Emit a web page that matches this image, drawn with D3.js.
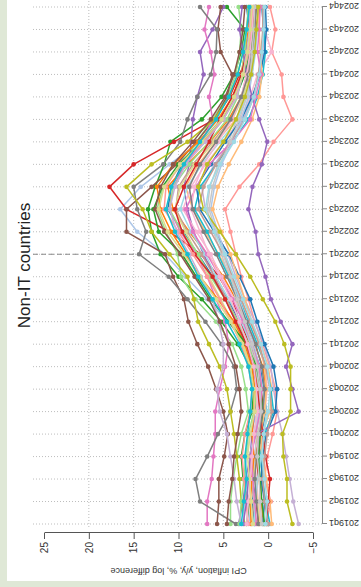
<!DOCTYPE html>
<html><head><meta charset="utf-8">
<script src="https://cdn.jsdelivr.net/npm/d3@7"></script>
<style>html,body{margin:0;padding:0;background:#dfe8d6;} svg{display:block}</style>
</head><body><svg id="c" width="361" height="587"></svg>
<script>
const quarters = ['2019q1','2019q2','2019q3','2019q4','2020q1','2020q2','2020q3','2020q4','2021q1','2021q2','2021q3','2021q4','2022q1','2022q2','2022q3','2022q4','2023q1','2023q2','2023q3','2023q4','2024q1','2024q2','2024q3','2024q4'];
const valueTicks = [-5,0,5,10,15,20,25];
const gridTicks = [-5,0,5,10,15,20];
const markerQuarter = '2022q1';
const titleText = 'Non-IT countries';
const yLabel = 'CPI inflation, y/y, %, log difference';

const s00 = [1.5,1.8,1.2,1.0,0.8,0.2,0.5,0.9,1.8,3.2,4.5,6.2,7.8,9.5,11.2,10.8,9.6,7.2,5.0,3.8,2.9,2.5,2.1,2.4];
const s01 = [2.0,2.3,2.6,2.4,2.0,1.2,1.0,1.4,2.4,4.5,6.8,9.2,11.5,14.6,16.5,14.2,11.0,7.6,5.2,3.6,2.8,2.2,1.9,2.0];
const s02 = [0.5,0.8,1.0,1.4,1.2,0.4,0.2,0.6,1.5,2.6,3.6,5.0,6.8,8.8,10.6,11.2,9.0,6.5,4.4,3.0,2.2,1.6,1.2,0.9];
const s03 = [1.2,1.0,0.6,0.9,0.7,-0.2,-0.4,0.0,0.8,2.0,3.0,4.2,5.5,7.0,8.4,9.2,7.8,5.8,3.6,2.4,1.8,1.5,1.3,1.1];
const s04 = [2.4,2.1,2.8,3.0,2.6,1.8,1.6,2.0,3.4,5.2,7.4,10.0,12.0,13.0,13.4,12.6,11.6,10.9,7.4,5.2,3.8,3.0,2.6,4.6];
const s05 = [4.2,4.2,3.9,3.5,3.0,2.2,2.5,3.0,4.0,5.8,8.1,9.7,10.1,11.4,12.4,11.7,9.6,8.0,6.2,4.6,3.6,3.2,3.0,3.3];
const s06 = [1.0,1.4,1.2,1.1,0.9,0.5,0.8,1.0,2.0,3.2,4.0,5.5,7.5,11.0,15.8,17.7,15.0,10.5,6.0,4.3,3.2,2.0,1.4,0.9];
const s07 = [0.2,-0.3,0.4,0.1,-0.5,-1.0,-0.8,-0.2,0.6,1.5,2.2,3.0,3.6,4.2,4.8,3.2,1.0,-0.6,-2.7,-1.7,-1.5,-0.4,-0.8,-0.2];
const s08 = [3.3,2.8,2.5,2.0,1.8,1.5,1.2,1.8,2.5,3.6,4.8,6.0,7.2,8.3,9.0,9.4,8.8,8.6,8.4,7.9,7.2,7.6,6.2,5.0];
const s09 = [-3.4,-2.8,-2.4,-2.0,-1.6,-1.0,-0.6,-0.3,0.5,1.5,2.6,3.6,4.5,5.8,7.0,7.4,6.0,4.2,2.8,1.6,1.0,0.6,0.4,0.5];
const s10 = [5.7,5.5,5.5,4.9,4.5,5.0,5.8,6.7,7.9,8.9,9.4,10.6,11.5,15.8,15.8,13.0,10.2,8.0,6.0,4.6,4.0,5.3,5.6,5.3];
const s11 = [1.8,1.6,1.9,2.1,1.5,0.8,0.9,1.2,2.2,3.4,4.6,6.0,7.4,9.0,10.3,10.0,8.4,6.2,4.2,3.0,2.4,2.0,1.8,1.6];
const s12 = [6.8,6.8,6.3,6.1,5.9,5.9,5.4,4.8,4.4,4.8,5.8,6.8,8.0,9.8,11.0,10.6,9.2,7.4,6.2,6.6,6.0,6.4,7.1,6.6];
const s13 = [0.8,1.1,1.3,1.6,1.0,0.4,0.1,0.3,1.2,2.6,3.8,5.2,6.4,8.0,9.5,8.6,7.0,5.0,3.1,2.0,1.2,-0.4,0.4,0.8];
const s14 = [3.6,7.6,8.1,6.8,5.6,4.2,3.5,3.8,5.2,7.0,9.0,11.1,14.4,13.6,14.6,15.0,11.7,9.8,9.0,7.9,6.4,5.8,5.7,7.6];
const s15 = [1.4,1.6,1.7,1.5,1.3,1.0,1.1,1.4,2.0,2.8,3.6,4.4,5.2,6.1,6.8,6.5,5.6,4.4,3.5,2.8,2.4,2.2,2.1,2.0];
const s16 = [2.6,3.0,3.2,3.5,3.8,4.2,4.6,5.4,6.6,7.8,8.3,9.0,11.0,13.0,14.0,15.8,13.0,9.0,6.0,4.4,3.4,2.8,2.4,2.2];
const s17 = [0.9,1.2,1.4,1.8,1.6,1.2,1.4,1.9,2.8,4.0,5.3,6.6,7.9,9.2,10.4,9.8,8.2,6.0,4.0,2.8,2.0,1.7,1.5,1.3];
const s18 = [-0.2,0.3,0.6,0.9,0.4,-0.6,-0.3,0.2,1.2,2.2,3.2,4.4,5.6,6.8,8.2,7.6,5.8,4.0,2.2,1.2,0.6,0.3,0.5,0.7];
const s19 = [1.6,1.4,1.2,0.8,0.5,0.2,0.6,1.0,1.9,3.0,4.4,5.8,7.0,8.6,9.8,9.0,7.4,5.4,3.4,2.4,1.8,1.4,1.2,1.1];
const s20 = [0.6,0.4,0.8,0.6,0.2,-0.8,-1.0,-0.6,0.4,1.2,2.0,3.2,4.4,6.0,7.6,8.0,6.4,4.8,3.0,1.8,0.9,0.4,0.2,0.3];
const s21 = [2.8,2.6,2.3,2.0,1.6,1.0,0.8,1.0,1.6,2.4,3.2,4.0,4.8,5.6,6.4,6.0,5.2,4.0,3.0,2.2,1.8,1.6,1.5,1.6];
const s22 = [1.9,2.0,1.8,1.6,1.8,1.6,1.5,1.8,2.6,3.8,5.6,7.6,9.2,10.8,12.0,12.4,10.6,7.8,5.6,4.0,3.0,2.6,2.2,1.9];
const s23 = [-0.4,-0.2,0.2,0.6,0.8,0.4,0.2,0.4,1.0,1.8,2.6,3.4,4.2,5.2,6.2,5.6,4.4,3.0,1.8,1.0,0.7,0.9,1.0,1.2];
const s24 = [0.4,0.7,0.9,1.1,0.9,0.6,0.8,1.3,2.4,4.4,6.4,8.0,9.6,12.2,12.8,11.8,10.0,7.4,5.2,3.6,2.6,2.0,1.6,1.4];
const s25 = [3.2,3.0,2.7,2.5,2.2,1.6,1.2,1.5,2.2,3.4,4.8,6.4,7.8,9.6,11.0,10.6,8.8,6.6,4.6,3.4,3.0,2.6,2.4,2.2];
const s26 = [0.2,0.0,-0.2,0.3,0.6,0.9,1.2,1.6,2.4,3.6,4.8,6.2,8.2,9.6,10.4,9.4,8.0,6.6,5.4,4.0,3.0,2.4,1.8,1.4];
const s27 = [2.2,2.5,2.7,2.9,2.6,2.0,1.8,2.2,3.0,4.2,5.4,6.8,8.4,10.0,11.6,11.4,9.8,7.2,5.0,3.6,2.8,2.2,1.9,1.7];
const s28 = [2.8,2.4,2.2,2.0,1.4,-3.4,-2.7,-2.0,-2.7,-1.4,-0.3,0.3,1.1,1.4,2.2,1.75,0.7,0.1,1.0,1.8,2.4,2.8,3.2,2.9];
const s29 = [3.0,3.5,3.8,4.2,4.6,5.4,5.7,5.0,5.0,5.5,6.2,7.5,8.8,10.2,11.0,10.4,9.2,7.0,5.0,3.5,2.8,2.4,2.1,2.0];
const s30 = [4.6,4.4,4.0,3.8,3.4,3.0,3.2,3.6,4.4,5.4,6.6,8.2,9.8,11.6,12.6,12.0,10.6,8.4,6.4,4.8,3.8,3.2,2.8,2.6];
const s31 = [0.0,0.4,0.6,0.4,0.1,-0.4,-0.2,0.3,1.0,2.0,3.0,4.0,5.0,6.4,7.8,7.2,5.8,4.2,2.6,1.6,1.1,0.8,0.6,0.6];
const s32 = [1.3,1.5,1.7,1.9,1.4,0.9,0.7,1.0,1.8,2.8,4.0,5.4,6.8,8.4,9.2,8.0,6.6,4.0,2.0,1.4,0.8,1.2,1.0,0.9];
const s33 = [2.4,2.2,2.0,1.8,1.6,1.2,1.3,1.6,2.3,3.2,4.2,5.4,6.6,7.6,8.6,8.2,7.2,5.6,4.0,3.0,2.4,2.0,1.8,1.6];
const s34 = [1.1,1.3,1.5,1.3,1.0,0.6,0.4,0.7,1.4,2.4,3.4,4.6,5.8,7.2,8.4,8.8,7.6,5.8,4.2,3.0,2.2,1.8,1.5,1.3];
const s35 = [0.7,0.9,1.0,1.2,1.1,0.8,0.9,1.2,1.8,2.6,3.4,4.2,5.0,5.8,6.6,6.2,5.4,4.2,3.2,2.4,2.0,1.8,1.6,1.5];
const s36 = [-2.7,-2.1,-2.1,-1.7,-1.6,-2.5,-2.5,-2.5,-1.8,-0.8,0.6,2.0,3.6,5.4,7.2,7.8,6.8,5.0,3.6,2.6,1.9,1.5,1.3,1.1];
const s37 = [1.7,1.9,2.1,2.3,2.0,1.5,1.6,2.0,2.9,4.2,5.8,7.6,9.4,11.2,12.2,11.6,9.8,7.4,5.2,3.8,2.8,2.3,2.0,1.8];
const s38 = [3.0,2.7,2.4,2.6,2.3,2.0,1.8,2.2,3.2,4.6,6.2,7.8,9.0,10.4,11.4,10.8,9.4,7.6,5.8,4.4,3.4,2.8,2.4,2.1];
const s39 = [0.3,0.1,0.4,0.7,0.5,0.0,-0.2,0.1,0.8,1.8,2.8,3.8,4.8,6.0,7.0,6.6,5.4,3.8,2.6,1.6,1.0,0.7,0.5,0.4];

const seriesList = [s00,s01,s02,s03,s04,s05,s06,s07,s08,s09,s10,s11,s12,s13,s14,s15,s16,s17,s18,s19,
                    s20,s21,s22,s23,s24,s25,s26,s27,s28,s29,s30,s31,s32,s33,s34,s35,s36,s37,s38,s39];

// style
const palette = ['#1f77b4','#aec7e8','#ff7f0e','#ffbb78','#2ca02c','#98df8a','#d62728','#ff9896','#9467bd','#c5b0d5',
                 '#8c564b','#c49c94','#e377c2','#f7b6d2','#7f7f7f','#c7c7c7','#bcbd22','#dbdb8d','#17becf','#9edae5'];
const FONT = '"Liberation Sans", Arial, Helvetica, sans-serif';

const W = 587, H = 361; // unrotated chart frame
const svg = d3.select('#c');
svg.append('rect').attr('width',361).attr('height',587).attr('fill','#dfe8d6');
const g = svg.append('g').attr('transform',`translate(0,${W}) rotate(-90)`);

g.append('rect').attr('x',6).attr('y',7).attr('width',W-6).attr('height',H-7).attr('fill','#ffffff');

const x = d3.scalePoint().domain(quarters).range([63,580]).padding(0);
const y = d3.scaleLinear().domain([-5,25]).range([313,44]);

const plotTop = 33, plotBottom = 322, plotLeft = 60, plotRight = W;

// grid
g.append('g').selectAll('line').data(gridTicks).join('line')
  .attr('x1',plotLeft).attr('x2',plotRight)
  .attr('y1',d=>y(d)).attr('y2',d=>y(d))
  .attr('stroke','#bdbdbd').attr('stroke-width',1).attr('stroke-dasharray','1,2');
g.append('g').selectAll('line').data(quarters).join('line')
  .attr('x1',d=>x(d)).attr('x2',d=>x(d))
  .attr('y1',plotTop).attr('y2',plotBottom)
  .attr('stroke','#bdbdbd').attr('stroke-width',1).attr('stroke-dasharray','1,2');

// dashed marker
g.append('line')
  .attr('x1',x(markerQuarter)).attr('x2',x(markerQuarter))
  .attr('y1',plotTop).attr('y2',plotBottom)
  .attr('stroke','#8a8a8a').attr('stroke-width',1.2).attr('stroke-dasharray','5,3');

// series
const line = d3.line().x((d,i)=>x(quarters[i])).y(d=>y(d));
const sg = g.append('g');
seriesList.forEach((s,k)=>{
  const col = palette[k % palette.length];
  const gg = sg.append('g');
  gg.append('path').datum(s).attr('d',line).attr('fill','none')
    .attr('stroke',col).attr('stroke-width',1.5).attr('stroke-linejoin','round');
  gg.selectAll('circle').data(s).join('circle')
    .attr('cx',(d,i)=>x(quarters[i])).attr('cy',d=>y(d)).attr('r',2.3).attr('fill',col);
});

// value axis (left in unrotated frame)
const ya = g.append('g').attr('transform','translate(54,0)')
  .call(d3.axisLeft(y).tickValues(valueTicks).tickSize(6).tickSizeOuter(0).tickPadding(3).tickFormat(d3.format('d')));
ya.select('.domain').attr('stroke','#555');
ya.selectAll('.tick line').attr('stroke','#555');
ya.selectAll('.tick text').attr('fill','#333').style('font-family',FONT).style('font-size','10px');

// quarter axis (bottom in unrotated frame)
const xa = g.append('g').attr('transform',`translate(0,${plotBottom})`)
  .call(d3.axisBottom(x).tickSize(5).tickSizeOuter(0));
xa.select('.domain').attr('stroke','#888');
xa.selectAll('.tick line').attr('stroke','#888');
xa.selectAll('.tick text')
  .attr('transform','rotate(-90)').attr('x',-7).attr('y',0).attr('dy','0.35em')
  .attr('text-anchor','end').attr('fill','#333')
  .style('font-family',FONT).style('font-size','9px');

// title
g.append('text').attr('x',(x(quarters[0])+x(quarters[quarters.length-1]))/2).attr('y',30)
  .attr('text-anchor','middle').attr('fill','#222')
  .style('font-family',FONT).style('font-size','17px').text(titleText);

// y label
g.append('text').attr('transform',`translate(19,${(y(-5)+y(25))/2}) rotate(-90)`)
  .attr('text-anchor','middle').attr('fill','#333')
  .style('font-family',FONT).style('font-size','9px').text(yLabel);
</script>
</body></html>
